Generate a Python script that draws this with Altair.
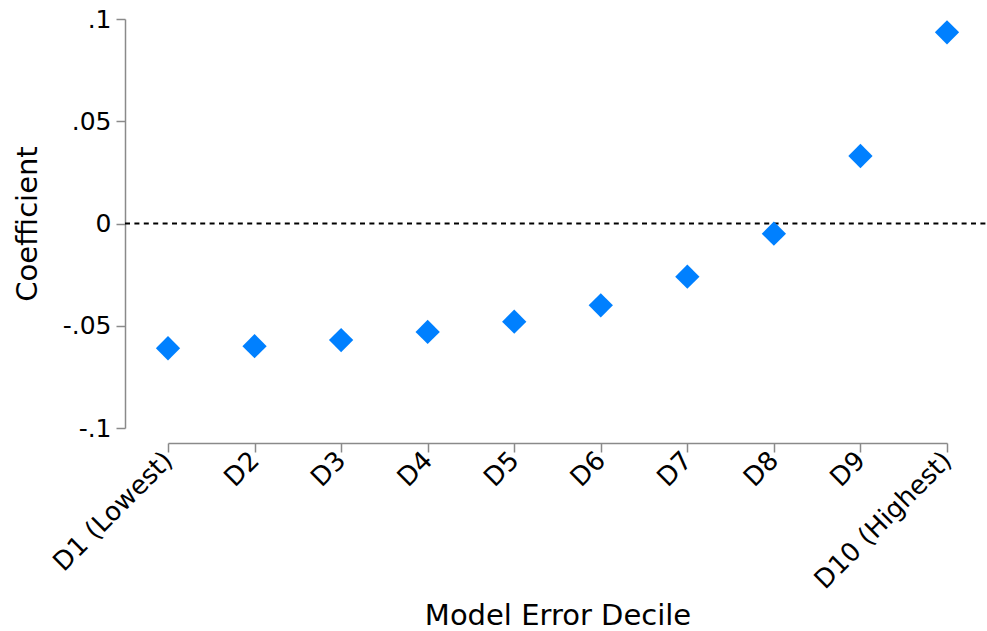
import altair as alt
import pandas as pd

deciles = ["D1 (Lowest)", "D2", "D3", "D4", "D5", "D6", "D7", "D8", "D9", "D10 (Highest)"]
coefs = [-0.061, -0.060, -0.057, -0.053, -0.048, -0.040, -0.026, -0.005, 0.033, 0.0935]
y_ticks = [-0.1, -0.05, 0, 0.05, 0.1]

df = pd.DataFrame({"decile": deciles, "coef": coefs})

FONT = "DejaVu Sans"
AXIS_GREY = "#8a8a8a"

x_enc = alt.X(
    "decile:N",
    sort=deciles,
    scale=alt.Scale(type="point", padding=0),
    axis=alt.Axis(
        title="Model Error Decile",
        titleFont=FONT, titleFontSize=29, titleFontWeight="normal", titleColor="black",
        titlePadding=8,
        labelFont=FONT, labelFontSize=26, labelColor="black",
        labelAngle=-45, labelAlign="right", labelBaseline="middle", labelPadding=4,
        labelLimit=0,
        tickSize=9, tickColor=AXIS_GREY, domainColor=AXIS_GREY,
        tickWidth=1.5, domainWidth=1.5,
        offset=15, grid=False, labelOverlap=False,
    ),
)

y_scale = alt.Scale(domain=[-0.1, 0.1], nice=False, zero=False)

points = alt.Chart(df).mark_point(
    shape="diamond", filled=True, size=590, color="#0080FF", opacity=1
).encode(
    x=x_enc,
    y=alt.Y(
        "coef:Q",
        scale=y_scale,
        axis=alt.Axis(
            title="Coefficient",
            titleFont=FONT, titleFontSize=29, titleFontWeight="normal", titleColor="black",
            titlePadding=20,
            values=y_ticks,
            labelExpr="datum.value == 0 ? '0' : replace(replace(format(datum.value, '.2~f'), '\u2212', '-'), '0.', '.')",
            labelFont=FONT, labelFontSize=25, labelColor="black", labelPadding=5,
            tickSize=9, tickColor=AXIS_GREY, domainColor=AXIS_GREY,
            tickWidth=1.5, domainWidth=1.5,
            offset=43, grid=False,
        ),
    ),
)

zero_line = alt.Chart(pd.DataFrame({"y": [0]})).mark_rule(
    color="black", strokeDash=[5, 4.4], strokeWidth=2, clip=False
).encode(
    y=alt.Y("y:Q", scale=y_scale),
    x=alt.value(-43),
    x2=alt.value(819),
)

chart = alt.layer(zero_line, points).properties(
    width=779,
    height=409,
    background="white",
    autosize=alt.AutoSizeParams(type="none"),
    padding={"left": 168, "top": 19, "right": 40, "bottom": 203},
).configure_view(strokeWidth=0, stroke=None)

chart.save("out.html", embed_options={"renderer": "svg", "actions": False})
